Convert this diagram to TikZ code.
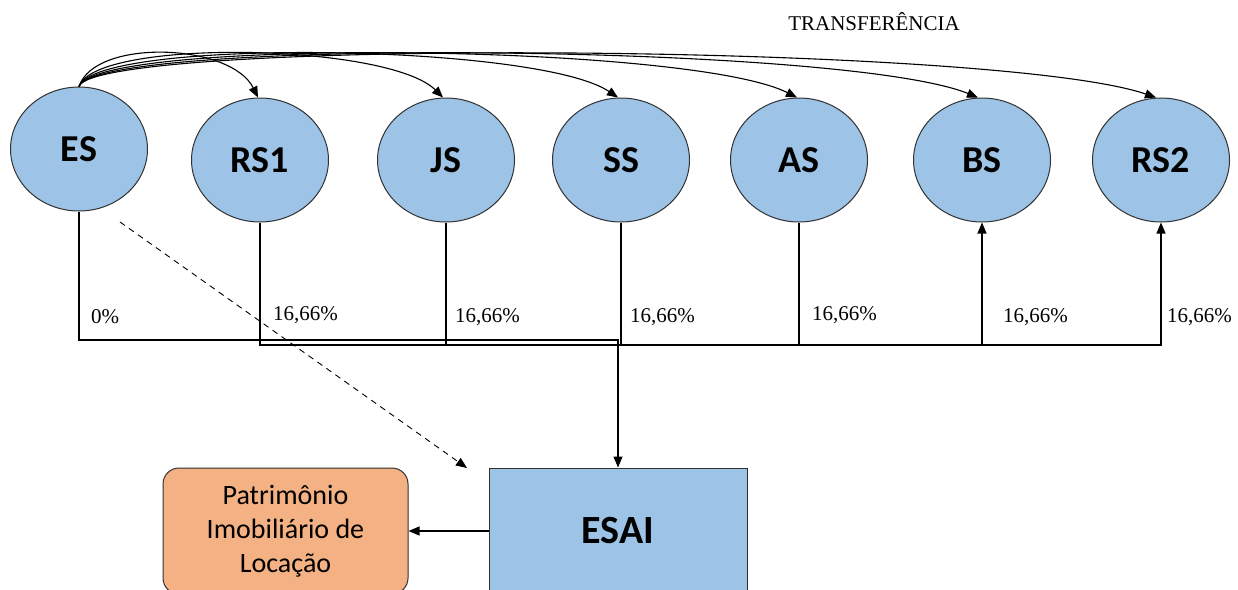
\documentclass[tikz,border=0pt]{standalone}
\usepackage{fontspec}
\setmainfont{Liberation Serif}
\newfontfamily\calib{Carlito}
\usetikzlibrary{shapes.geometric,arrows.meta,calc}
\definecolor{nodeblue}{RGB}{157,195,230}
\definecolor{assetorange}{RGB}{244,177,131}
\definecolor{edgegray}{RGB}{50,50,50}
\begin{document}
\begin{tikzpicture}[x=1pt,y=-1pt,
  unit/.style={ellipse, draw=edgegray, line width=1pt, fill=nodeblue,
    minimum width=137pt, minimum height=124pt, inner sep=0pt,
    font=\calib\bfseries\fontsize{38}{40}\selectfont},
  flow/.style={line width=1.1pt, -{Triangle[length=11pt,width=9pt]}},
  wire/.style={line width=1.1pt},
  pct/.style={anchor=base west, inner sep=0pt, font=\fontsize{21}{24}\selectfont}]
\fill[white] (0,0) rectangle (1238,589);
\clip (0,0) rectangle (1238,589);

% sectors
\node[unit] (ES)  at (79,149)  {ES};
\node[unit] (RS1) at (260,160) {RS1};
\node[unit] (JS)  at (446,160) {JS};
\node[unit] (SS)  at (621,160) {SS};
\node[unit] (AS)  at (799,160) {AS};
\node[unit] (BS)  at (982,160) {BS};
\node[unit] (RS2) at (1161,160) {RS2};

% lower boxes
\node[draw=edgegray, line width=1pt, fill=nodeblue, inner sep=0pt,
  minimum width=258pt, minimum height=126pt,
  font=\calib\bfseries\fontsize{40}{44}\selectfont] (ESAI) at (618,531) {ESAI};
\node[draw=edgegray, line width=1pt, fill=assetorange, rounded corners=16pt,
  inner sep=0pt, minimum width=245pt, minimum height=126pt, align=center,
  font=\calib\fontsize{28}{34}\selectfont] (PIL) at (285.5,531)
  {Patrimônio\\Imobiliário de\\Locação};

% title of the transfer arcs
\node[anchor=base, inner sep=0pt, font=\fontsize{21}{24}\selectfont] (tr) at (874,30) {TRANSFERÊNCIA};

% transfer arcs from ES
\draw[flow] (ES.north) .. controls (95,38) and (231,43) .. ($(RS1.north)+(-2,0)$);
\draw[flow] (ES.north) .. controls (95,38) and (388,43) .. ($(JS.north)+(-3,0)$);
\draw[flow] (ES.north) .. controls (95,38) and (537,43) .. ($(SS.north)+(-3,0)$);
\draw[flow] (ES.north) .. controls (95,38) and (689,43) .. ($(AS.north)+(-2,0)$);
\draw[flow] (ES.north) .. controls (95,38) and (843,43) .. ($(BS.north)+(-4,0)$);
\draw[flow] (ES.north) .. controls (95,38) and (996,43) .. ($(RS2.north)+(-5,0)$);

% distribution lines
\coordinate (esj) at (618,340);
\coordinate (jn) at (618,345);
\draw[flow] (ES.south) |- (esj) -- (ESAI.north);
\draw[wire] (RS1.south) |- (jn);
\draw[wire] (JS.south) |- (jn);
\draw[wire] (SS.south) |- (jn);
\draw[wire] (AS.south) |- (jn);
\draw[flow] (jn) -| (BS.south);
\draw[flow] (jn) -| (RS2.south);

% shares
\node[pct] (p0) at (91,323) {0\%};
\node[pct] (p1) at (273,320) {16,66\%};
\node[pct] (p2) at (455,322) {16,66\%};
\node[pct] (p3) at (630,322) {16,66\%};
\node[pct] (p4) at (812,320) {16,66\%};
\node[pct] (p5) at (1003,322) {16,66\%};
\node[pct] (p6) at (1167,322) {16,66\%};

% dashed link and output
\coordinate (ds) at (120,222);
\coordinate (de) at (467,468);
\draw[flow, line width=0.9pt, dash pattern=on 6pt off 5pt] (ds) -- (de);
\draw[flow] (ESAI.west) -- (PIL.east);
\end{tikzpicture}
\end{document}
